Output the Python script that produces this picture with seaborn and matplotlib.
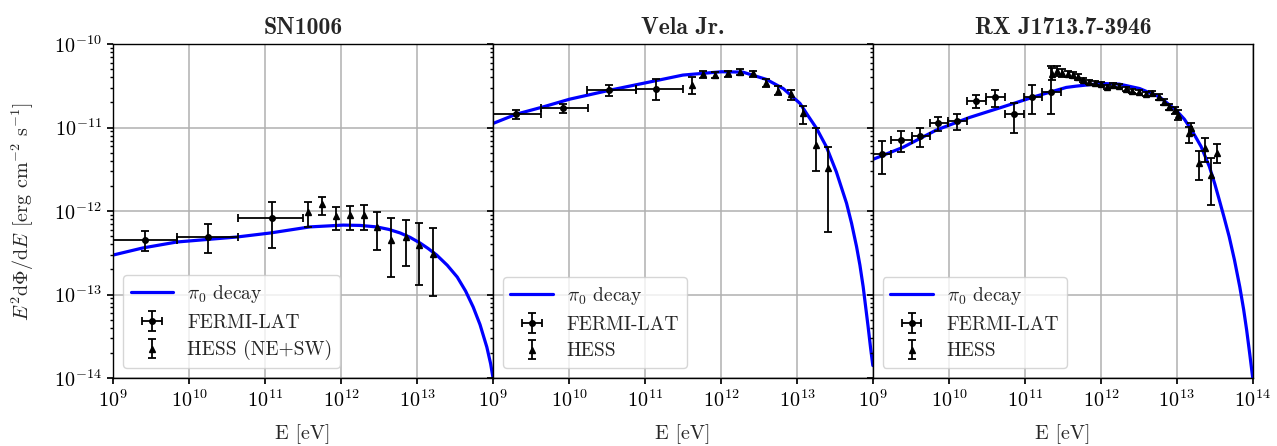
import numpy as np
import matplotlib
matplotlib.use("Agg")
import matplotlib.pyplot as plt
import seaborn as sns
from matplotlib.ticker import NullLocator, LogLocator, NullFormatter

# ---------------- data ----------------
titles = ["SN1006", "Vela Jr.", "RX J1713.7-3946"]
hess_labels = ["HESS (NE+SW)", "HESS", "HESS"]
y_ticks = [1e-14, 1e-13, 1e-12, 1e-11, 1e-10]
x_ticks_inner = [1e9, 1e10, 1e11, 1e12, 1e13]
x_ticks_last = [1e9, 1e10, 1e11, 1e12, 1e13, 1e14]

# SN1006 model curve
sn_model_E = [1e9, 2.45e9, 6.92e9, 4.27e10, 1.17e11, 3.89e11, 1.07e12, 1.78e12, 2.95e12,
              4.27e12, 6.03e12, 8.13e12, 1.10e13, 1.41e13, 1.82e13, 2.51e13, 3.39e13,
              4.37e13, 5.50e13, 6.76e13, 8.32e13, 9.33e13, 1e14]
sn_model_F = [2.97e-13, 3.61e-13, 4.26e-13, 4.89e-13, 5.46e-13, 6.46e-13, 6.79e-13, 6.73e-13, 6.46e-13,
              6.03e-13, 5.46e-13, 4.84e-13, 4.14e-13, 3.55e-13, 2.97e-13, 2.24e-13, 1.62e-13,
              1.10e-13, 7.08e-14, 4.37e-14, 2.34e-14, 1.48e-14, 1.02e-14]
# SN1006 Fermi
sn_fermi_E = [2.63e9, 1.78e10, 1.23e11]
sn_fermi_Elo = [1e9, 6.92e9, 4.37e10]
sn_fermi_Ehi = [6.92e9, 4.37e10, 3.16e11]
sn_fermi_F = [4.50e-13, 4.89e-13, 8.24e-13]
sn_fermi_Fhi = [5.75e-13, 6.98e-13, 1.28e-12]
sn_fermi_Flo = [3.31e-13, 3.14e-13, 3.61e-13]
# SN1006 HESS
sn_hess_E = [3.72e11, 5.62e11, 8.71e11, 1.32e12, 2.00e12, 3.02e12, 4.57e12, 7.08e12, 1.07e13, 1.62e13]
sn_hess_F = [9.64e-13, 1.21e-12, 8.71e-13, 8.95e-13, 8.95e-13, 6.38e-13, 4.50e-13, 4.84e-13, 3.92e-13, 3.05e-13]
sn_hess_Fhi = [1.29e-12, 1.46e-12, 1.11e-12, 1.15e-12, 1.19e-12, 9.72e-13, 8.32e-13, 7.80e-13, 7.24e-13, 6.21e-13]
sn_hess_Flo = [6.49e-13, 8.95e-13, 5.92e-13, 5.92e-13, 5.92e-13, 3.41e-13, 1.63e-13, 2.19e-13, 1.30e-13, 9.59e-14]

# Vela Jr. model curve
vj_model_E = [1e9, 2.04e9, 4.57e9, 1.02e10, 3.47e10, 1.02e11, 3.16e11, 1.02e12, 1.95e12,
              3.98e12, 6.61e12, 1.10e13, 1.41e13, 1.82e13, 2.45e13, 3.31e13, 4.51e13,
              5.25e13, 6.11e13, 6.76e13, 7.46e13, 8.67e13, 9.33e13, 1e14]
vj_model_F = [1.12e-11, 1.45e-11, 1.77e-11, 2.19e-11, 2.81e-11, 3.44e-11, 4.26e-11, 4.67e-11,
              4.62e-11, 3.78e-11, 2.94e-11, 1.95e-11, 1.38e-11, 9.77e-12, 5.89e-12, 2.95e-12,
              1.24e-12, 7.14e-13, 3.74e-13, 2.25e-13, 1.24e-13, 4.11e-14, 2.31e-14, 1.41e-14]
# Vela Jr. Fermi
vj_fermi_E = [2.0e9, 8.41e9, 3.39e10, 1.41e11]
vj_fermi_Elo = [9.3e8, 4.27e9, 1.74e10, 7.59e10]
vj_fermi_Ehi = [4.27e9, 1.78e10, 7.59e10, 3.16e11]
vj_fermi_F = [1.45e-11, 1.70e-11, 2.81e-11, 2.94e-11]
vj_fermi_Fhi = [1.62e-11, 1.90e-11, 3.23e-11, 3.81e-11]
vj_fermi_Flo = [1.26e-11, 1.50e-11, 2.40e-11, 2.13e-11]
# Vela Jr. HESS
vj_hess_E = [4.11e11, 5.85e11, 8.41e11, 1.24e12, 1.79e12, 2.64e12, 3.87e12, 5.68e12,
             8.34e12, 1.21e13, 1.76e13, 2.54e13]
vj_hess_F = [3.23e-11, 4.38e-11, 4.26e-11, 4.46e-11, 4.66e-11, 4.46e-11, 3.44e-11, 2.76e-11,
             2.52e-11, 1.50e-11, 6.17e-12, 3.24e-12]
vj_hess_Fhi = [4.06e-11, 4.80e-11, 4.67e-11, 4.80e-11, 4.98e-11, 4.80e-11, 3.78e-11, 3.17e-11,
               2.86e-11, 1.82e-11, 9.77e-12, 5.89e-12]
vj_hess_Flo = [2.56e-11, 3.88e-11, 3.88e-11, 4.06e-11, 4.26e-11, 4.06e-11, 3.08e-11, 2.45e-11,
               2.17e-11, 1.10e-11, 3.04e-12, 5.65e-13]

# RX J1713 model curve
rx_model_E = [1e9, 2.48e9, 6.82e9, 1.86e10, 5.13e10, 1.41e11, 3.51e11, 4.74e11, 1e12, 1.76e12,
              3.24e12, 5.89e12, 9.77e12, 1.26e13, 1.62e13, 2.09e13, 2.69e13, 3.16e13, 3.63e13,
              4.17e13, 4.90e13, 5.75e13, 6.76e13, 7.59e13, 8.32e13, 9.12e13, 1e14]
rx_model_F = [4.16e-12, 5.79e-12, 9.33e-12, 1.32e-11, 1.77e-11, 2.38e-11, 3.03e-11, 3.14e-11,
              3.38e-11, 3.32e-11, 2.94e-11, 2.34e-11, 1.62e-11, 1.26e-11, 8.91e-12, 5.94e-12,
              3.40e-12, 2.13e-12, 1.36e-12, 8.59e-13, 4.93e-13, 2.59e-13, 1.23e-13, 6.62e-14,
              3.74e-14, 1.96e-14, 1e-14]
# RX J1713 Fermi
rx_fermi_E = [1.32e9, 2.34e9, 4.17e9, 7.24e9, 1.27e10, 2.29e10, 4.07e10, 7.24e10, 1.26e11, 2.24e11]
rx_fermi_Elo = [1e9, 1.74e9, 3.24e9, 5.62e9, 9.77e9, 1.74e10, 3.09e10, 5.50e10, 9.77e10, 1.70e11]
rx_fermi_Ehi = [1.74e9, 3.24e9, 5.62e9, 9.77e9, 1.74e10, 3.09e10, 5.50e10, 9.77e10, 1.70e11, 3.02e11]
rx_fermi_F = [4.82e-12, 7.08e-12, 7.91e-12, 1.14e-11, 1.20e-11, 2.07e-11, 2.30e-11, 1.45e-11, 2.34e-11, 2.69e-11]
rx_fermi_Fhi = [6.89e-12, 9.08e-12, 9.77e-12, 1.35e-11, 1.45e-11, 2.45e-11, 2.81e-11, 1.98e-11, 3.23e-11, 5.45e-11]
rx_fermi_Flo = [2.75e-12, 5.13e-12, 5.79e-12, 9.16e-12, 9.33e-12, 1.70e-11, 1.77e-11, 8.67e-12, 1.45e-11, 1.45e-11]
# RX J1713 HESS
rx_hess_E = [2.31e11, 2.69e11, 3.13e11, 3.65e11, 4.25e11, 4.94e11, 5.92e11, 7.10e11, 8.51e11,
             1.02e12, 1.22e12, 1.47e12, 1.76e12, 2.18e12, 2.61e12, 3.23e12, 3.99e12, 4.79e12,
             5.92e12, 6.88e12, 8.01e12, 9.61e12, 1.05e13, 1.43e13, 1.56e13, 1.99e13, 2.38e13,
             2.86e13, 3.43e13]
rx_hess_F = [4.37e-11, 4.75e-11, 4.50e-11, 4.37e-11, 4.25e-11, 4.03e-11, 3.71e-11, 3.51e-11, 3.41e-11,
             3.32e-11, 3.05e-11, 3.23e-11, 3.14e-11, 2.89e-11, 2.74e-11, 2.66e-11, 2.52e-11, 2.59e-11,
             2.32e-11, 2.02e-11, 1.76e-11, 1.62e-11, 1.41e-11, 8.59e-12, 9.86e-12, 3.76e-12, 5.68e-12,
             2.70e-12, 4.95e-12]
rx_hess_Fhi = [5.16e-11, 5.45e-11, 5.02e-11, 4.75e-11, 4.62e-11, 4.37e-11, 3.92e-11, 3.71e-11, 3.61e-11,
               3.51e-11, 3.23e-11, 3.41e-11, 3.32e-11, 3.05e-11, 2.89e-11, 2.81e-11, 2.66e-11, 2.74e-11,
               2.52e-11, 2.19e-11, 1.91e-11, 1.76e-11, 1.62e-11, 1.02e-11, 1.13e-11, 5.27e-12, 7.43e-12,
               4.28e-12, 6.34e-12]
rx_hess_Flo = [3.71e-11, 4.14e-11, 4.03e-11, 4.03e-11, 3.92e-11, 3.71e-11, 3.51e-11, 3.32e-11, 3.23e-11,
               3.14e-11, 2.89e-11, 3.05e-11, 2.97e-11, 2.74e-11, 2.59e-11, 2.52e-11, 2.38e-11, 2.38e-11,
               2.14e-11, 1.86e-11, 1.62e-11, 1.45e-11, 1.23e-11, 6.58e-12, 8.13e-12, 2.35e-12, 3.89e-12,
               1.18e-12, 3.73e-12]

panels = [
    (sn_model_E, sn_model_F, sn_fermi_E, sn_fermi_Elo, sn_fermi_Ehi, sn_fermi_F, sn_fermi_Flo, sn_fermi_Fhi,
     sn_hess_E, sn_hess_F, sn_hess_Flo, sn_hess_Fhi),
    (vj_model_E, vj_model_F, vj_fermi_E, vj_fermi_Elo, vj_fermi_Ehi, vj_fermi_F, vj_fermi_Flo, vj_fermi_Fhi,
     vj_hess_E, vj_hess_F, vj_hess_Flo, vj_hess_Fhi),
    (rx_model_E, rx_model_F, rx_fermi_E, rx_fermi_Elo, rx_fermi_Ehi, rx_fermi_F, rx_fermi_Flo, rx_fermi_Fhi,
     rx_hess_E, rx_hess_F, rx_hess_Flo, rx_hess_Fhi),
]

# ---------------- style ----------------
sns.set_theme(style="ticks")
plt.rcParams.update({
    "font.family": ["cmr10", "DejaVu Serif"],
    "mathtext.fontset": "cm",
    "axes.unicode_minus": False,
    "axes.formatter.use_mathtext": True,
    "font.size": 14,
    "axes.edgecolor": "black",
    "axes.linewidth": 1.0,
    "xtick.color": "black",
    "ytick.color": "black",
    "xtick.direction": "out",
    "ytick.direction": "out",
    "xtick.major.size": 4.5,
    "ytick.major.size": 4.5,
    "ytick.minor.size": 2.2,
})

fig, axes = plt.subplots(1, 3, figsize=(12.77, 4.46), dpi=100, sharey=True)
fig.subplots_adjust(left=0.0885, right=0.981, top=0.901, bottom=0.1525, wspace=0)

for i, ax in enumerate(axes):
    (mE, mF, fE, fElo, fEhi, fF, fFlo, fFhi, hE, hF, hFlo, hFhi) = panels[i]
    ax.set_xscale("log")
    ax.set_yscale("log")
    sns.lineplot(x=mE, y=mF, ax=ax, color="#0000ff", linewidth=2.3,
                 label=r"$\pi_0$ decay", sort=False, zorder=2)
    fE_a, fF_a = np.array(fE), np.array(fF)
    xerr = [fE_a - np.array(fElo), np.array(fEhi) - fE_a]
    yerr = [fF_a - np.array(fFlo), np.array(fFhi) - fF_a]
    ax.errorbar(fE_a, fF_a, xerr=xerr, yerr=yerr, fmt="o", color="black", ms=4,
                capsize=3, elinewidth=1.3, capthick=1.3, label="FERMI-LAT", zorder=3)
    hE_a, hF_a = np.array(hE), np.array(hF)
    yerr_h = [hF_a - np.array(hFlo), np.array(hFhi) - hF_a]
    ax.errorbar(hE_a, hF_a, yerr=yerr_h, fmt="^", color="black", ms=5,
                capsize=3, elinewidth=1.3, capthick=1.3, label=hess_labels[i], zorder=3)
    ax.set_xlim(1e9, 1e14)
    ax.set_xticks(x_ticks_inner if i < 2 else x_ticks_last)
    ax.set_yticks(y_ticks)
    ax.xaxis.set_minor_locator(NullLocator())
    ax.yaxis.set_minor_locator(LogLocator(base=10, subs=np.arange(2, 10)))
    ax.yaxis.set_minor_formatter(NullFormatter())
    ax.set_ylim(1e-14, 1e-10)
    ax.grid(True, which="major", color="#b0b0b0", linewidth=1.1)
    ax.set_axisbelow(True)
    ax.set_title(titles[i], fontfamily="cmb10", fontsize=17, pad=7)
    ax.set_xlabel("E [eV]", fontsize=14.5, labelpad=10)
    ax.tick_params(axis="both", labelsize=14.5)
    ax.legend(loc="lower left", fontsize=14, framealpha=0.8, edgecolor="#cccccc",
              handlelength=2.2, handletextpad=0.7, labelspacing=0.45, borderpad=0.4)
    for sp in ax.spines.values():
        sp.set_visible(True)

axes[0].set_ylabel(r"$E^2\mathrm{d}\Phi/\mathrm{d}E$ [erg cm$^{-2}$ s$^{-1}$]", fontsize=14.5, labelpad=13)

fig.savefig("out.png", dpi=100)
